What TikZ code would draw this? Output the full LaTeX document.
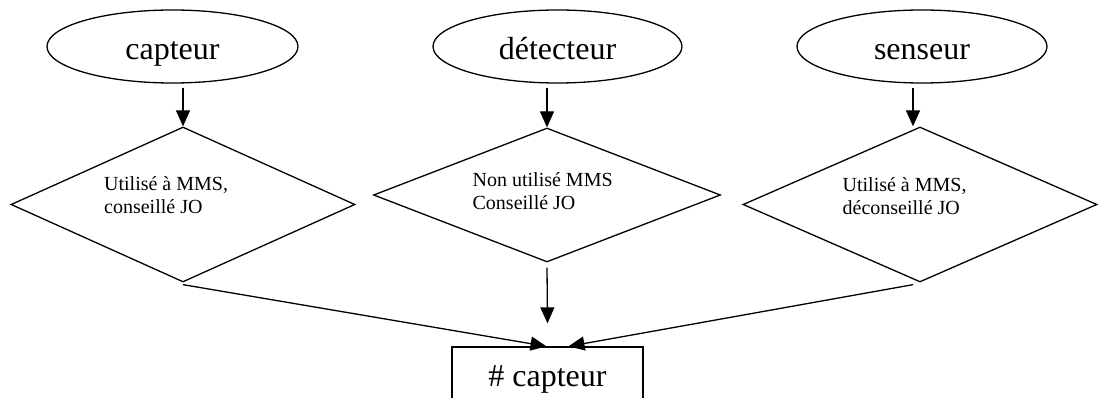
\documentclass[tikz,border=0pt]{standalone}
\usepackage{fontspec}
\setmainfont{Liberation Serif}
\usetikzlibrary{shapes.geometric,arrows.meta}
\begin{document}
\begin{tikzpicture}[x=1pt, y=-1pt, line width=1.3pt,
  arr/.style={-{Triangle[length=16pt,width=14pt]}},
  term/.style={draw, ellipse, minimum height=73pt, inner sep=0pt,
    text height=27pt, text depth=0pt,
    font=\fontsize{32}{38}\selectfont},
  choice/.style={draw, diamond, inner sep=0pt},
  note/.style={anchor=west, align=left, inner sep=0pt,
    font=\fontsize{20}{22.5}\selectfont},
  result/.style={draw, rectangle, minimum width=191pt, minimum height=64pt,
    inner sep=0pt, font=\fontsize{32}{38}\selectfont}]
\useasboundingbox (0,0) rectangle (1098,398);
\clip (0,0) rectangle (1098,398);

% terms
\node[term, minimum width=251pt] (e1) at (172.5,46.5) {capteur};
\node[term, minimum width=249pt] (e2) at (557.5,46.5) {détecteur};
\node[term, minimum width=250pt] (e3) at (922,46.5) {senseur};

% usage decisions
\node[choice, minimum width=344pt, minimum height=155pt] (d1) at (183,204.5) {};
\node[choice, minimum width=347pt, minimum height=134pt] (d2) at (547,195) {};
\node[choice, minimum width=354pt, minimum height=155pt] (d3) at (920,204.5) {};

\node[note] (t1) at (103.5,195) {Utilisé à MMS,\\conseillé JO};
\node[note] (t2) at (472,191) {Non utilisé MMS\\Conseillé JO};
\node[note] (t3) at (842,196) {Utilisé à MMS,\\déconseillé JO};

% retained term
\node[result] (r) at (547.5,379) {\# capteur};

% connectors
\draw[arr] ([yshift=-4pt]e1.south -| d1.north) -- (d1.north);
\draw[arr] ([yshift=-4pt]e2.south -| d2.north) -- (d2.north);
\draw[arr] ([xshift=-9pt,yshift=-4pt]e3.south) -- ([xshift=-7pt]d3.north);

\draw[arr] ([yshift=-2pt]d1.south) -- ([xshift=-1pt]r.north);
\draw[arr] ([yshift=-5pt]d2.south) -- ([yshift=23pt]r.north);
\draw[arr] ([xshift=-7pt,yshift=-2pt]d3.south) -- ([xshift=21pt]r.north);
\end{tikzpicture}
\end{document}
